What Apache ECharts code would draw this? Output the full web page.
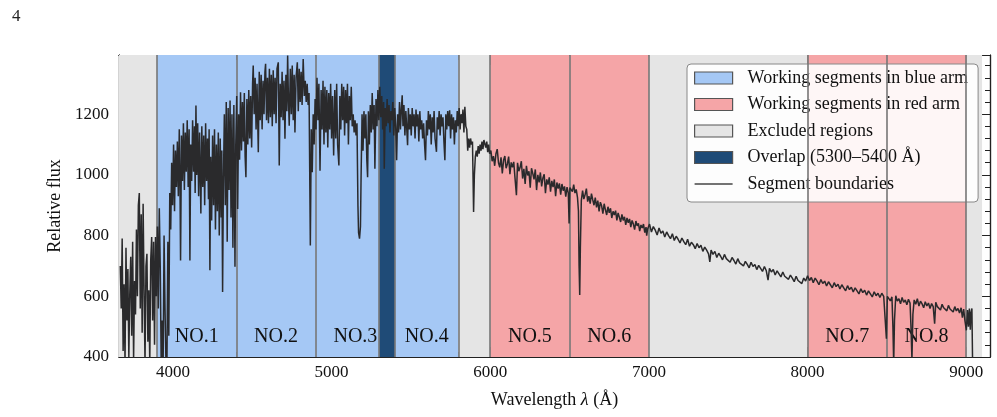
<!DOCTYPE html>
<html>
<head>
<meta charset="utf-8">
<script src="https://cdn.jsdelivr.net/npm/echarts@6/dist/echarts.min.js"></script>
<style>
  html, body { margin: 0; padding: 0; background: #fff; }
  #chart { width: 997px; height: 417px; }
</style>
</head>
<body>
<div id="chart"></div>
<script>
// spectrum, [wavelength in Å, relative flux], grouped by region
const specLeft = [[3668,700],[3674,560],[3680,790],[3686,420],[3692,640],[3698,380],[3704,760],[3710,520],[3716,690],[3722,400],[3728,610],[3734,730],[3740,470],[3746,780],[3752,390],[3758,650],[3764,540],[3770,820],[3776,600],[3782,900],[3788,940],[3794,560],[3800,870],[3806,480],[3812,905],[3818,620],[3824,380],[3830,700],[3836,740],[3842,450],[3848,620],[3854,380],[3860,720],[3866,795],[3872,520],[3878,780],[3884,440],[3890,795],[3896,600]];
const specNo1 = [[3902,830],[3908,560],[3914,890],[3920,700],[3926,380],[3932,520],[3938,360],[3944,800],[3950,560],[3956,380],[3962,360],[3968,780],[3974,470],[3980,940],[3986,820],[3992,1040],[3998,900],[4004,1100],[4010,880],[4016,1080],[4022,960],[4028,1110],[4034,930],[4040,1150],[4044,1000],[4048,718],[4054,1130],[4060,980],[4066,1170],[4072,950],[4078,1140],[4084,1010],[4090,1180],[4096,960],[4102,1150],[4107,718],[4112,1100],[4118,980],[4124,1180],[4130,1010],[4136,1160],[4140,940],[4145,1229],[4150,1000],[4156,1170],[4162,930],[4168,1140],[4176,873],[4182,1160],[4188,960],[4194,1130],[4200,900],[4206,1170],[4212,980],[4218,1120],[4224,920],[4228,1150],[4233,686],[4238,1060],[4244,850],[4250,1130],[4256,900],[4262,1150],[4268,820],[4274,1100],[4280,880],[4286,1140],[4292,800],[4298,1120],[4304,860],[4308,1080],[4313,614],[4318,980],[4324,1200],[4330,900],[4336,1240],[4342,780],[4348,1220],[4354,950],[4360,1245],[4366,860],[4372,1200],[4378,760],[4384,1230],[4391,697],[4396,1100]];
const specNo2 = [[4402,1260],[4408,888],[4414,1200],[4420,1050],[4426,1272],[4432,1080],[4438,1240],[4444,1110],[4450,1270],[4455,1060],[4460,992],[4466,1250],[4472,1100],[4478,1280],[4484,1120],[4490,1260],[4496,1090],[4502,1300],[4506,1360],[4512,1200],[4518,1320],[4524,1150],[4530,1300],[4538,1075],[4544,1340],[4550,1180],[4556,1330],[4562,1150],[4568,1310],[4574,1200],[4580,1340],[4584,1366],[4590,1180],[4596,1320],[4602,1170],[4608,1350],[4614,1190],[4620,1330],[4626,1160],[4632,1345],[4638,1200],[4644,1320],[4650,1170],[4656,1350],[4664,1371],[4670,1031],[4676,1300],[4682,1190],[4688,1340],[4694,1180],[4700,1310],[4706,1119],[4712,1330],[4718,1210],[4723,1393],[4728,1250],[4733,1162],[4740,1350],[4746,1200],[4752,1360],[4758,1180],[4764,1330],[4769,1140],[4776,1320],[4784,1371],[4790,1210],[4796,1350],[4802,1240],[4808,1340],[4814,1230],[4821,1382],[4828,1260],[4834,1310],[4840,1240],[4846,1300],[4852,1230],[4858,1270],[4866,767],[4872,1150],[4878,1009],[4884,1200],[4890,1100],[4896,1250],[4902,1150]];
const specNo3 = [[4908,1320],[4914,1180],[4920,1300],[4927,1014],[4934,1280],[4940,1150],[4946,1310],[4952,1100],[4958,1290],[4964,1140],[4970,1280],[4976,1090],[4982,1270],[4988,1150],[4994,1300],[5000,1120],[5006,1260],[5013,1064],[5020,1280],[5026,1120],[5032,1300],[5038,1100],[5046,1031],[5052,1260],[5058,1150],[5064,1300],[5070,1180],[5076,1290],[5082,1130],[5088,1280],[5094,1170],[5100,1300],[5106,1100],[5112,1260],[5118,1180],[5124,1290],[5130,1160],[5136,1200],[5142,1140],[5148,1180],[5154,1130],[5160,1170],[5166,900],[5170,810],[5176,790],[5182,830],[5186,1000],[5192,1200],[5198,1080],[5204,1210],[5210,1120],[5216,1200],[5222,1050],[5227,992],[5232,1210],[5238,1100],[5244,1230],[5250,1140],[5256,1270],[5262,1150],[5268,1230],[5273,1020],[5280,1250],[5286,1160],[5292,1280],[5298,1180],[5304,1290],[5310,1190],[5316,1260],[5322,1150],[5328,1240],[5332,1020],[5338,1220],[5344,1160],[5350,1250],[5356,1170],[5362,1230],[5368,1140],[5374,1210],[5380,1180],[5386,1240],[5392,1130],[5398,1220]];
const specNo4 = [[5404,1160],[5410,1048],[5416,1200],[5422,1140],[5428,1240],[5434,1150],[5440,1220],[5445,1262],[5450,1160],[5456,1230],[5462,1130],[5468,1210],[5474,1150],[5479,1098],[5484,1220],[5490,1150],[5496,1200],[5502,1130],[5508,1220],[5514,1160],[5520,1200],[5526,1120],[5532,1215],[5538,1160],[5544,1200],[5550,1110],[5556,1210],[5562,1150],[5568,1180],[5574,1120],[5580,1170],[5586,1100],[5592,1048],[5598,1180],[5604,1130],[5610,1210],[5616,1150],[5622,1200],[5628,1100],[5634,1190],[5640,1140],[5646,1210],[5652,1120],[5661,1076],[5666,1190],[5672,1150],[5678,1210],[5684,1130],[5690,1200],[5696,1160],[5702,1190],[5708,1110],[5714,1048],[5720,1200],[5726,1150],[5732,1210],[5738,1160],[5744,1213],[5750,1120],[5756,1200],[5762,1150],[5768,1190],[5774,1100],[5780,1180],[5786,1140],[5792,1210],[5798,1160]];
const specGap1 = [[5804,1220],[5810,1150],[5816,1200],[5822,1170],[5828,1215],[5834,1140],[5840,1224],[5846,1160],[5852,1150],[5858,1080],[5864,1120],[5870,1090],[5876,1120],[5882,1100],[5888,1110],[5895,878],[5900,1000],[5906,1060],[5912,1080],[5918,1060],[5924,1095],[5930,1070],[5936,1100],[5942,1080],[5948,1110],[5954,1085],[5960,1115],[5966,1120],[5972,1090],[5978,1110],[5984,1075],[5990,1100],[5996,1070]];
const specNo5 = [[6004,1080],[6012,1045],[6020,1062],[6028,1030],[6036,1070],[6044,1085],[6052,1040],[6060,1025],[6068,1058],[6076,1005],[6084,1048],[6092,1062],[6100,1022],[6108,1036],[6116,1060],[6124,1002],[6132,1041],[6140,1025],[6148,1043],[6156,990],[6165,933],[6172,1040],[6180,1012],[6188,1024],[6196,1045],[6204,988],[6212,1020],[6220,970],[6228,1030],[6236,998],[6244,1012],[6252,958],[6260,1022],[6268,1005],[6276,985],[6284,1018],[6292,950],[6300,1000],[6308,975],[6316,1008],[6324,962],[6332,990],[6340,1002],[6348,940],[6356,985],[6364,968],[6372,992],[6380,945],[6388,980],[6396,960],[6404,985],[6412,930],[6420,975],[6428,955],[6436,972],[6444,935],[6452,970],[6460,948],[6468,962],[6476,928],[6484,960],[6492,940],[6497,840],[6502,958]];
const specNo6 = [[6510,962],[6518,945],[6526,968],[6534,940],[6542,952],[6550,925],[6556,880],[6560,700],[6564,604],[6568,760],[6574,915],[6582,948],[6590,920],[6598,935],[6606,955],[6614,912],[6622,930],[6630,905],[6638,938],[6646,918],[6654,900],[6662,925],[6670,893],[6678,915],[6686,880],[6694,910],[6702,898],[6710,872],[6718,905],[6726,885],[6734,868],[6742,895],[6750,875],[6758,890],[6766,858],[6774,880],[6782,868],[6790,882],[6798,850],[6806,875],[6814,860],[6822,845],[6830,870],[6838,850],[6846,862],[6854,835],[6862,858],[6870,842],[6878,855],[6886,828],[6894,850],[6902,838],[6910,820],[6918,848],[6926,832],[6934,840],[6942,815],[6950,835],[6958,825],[6966,838],[6974,810],[6982,828],[6986,800],[6992,822]];
const specGap2 = [[7004,838],[7016,812],[7028,830],[7040,818],[7052,802],[7064,825],[7076,808],[7088,815],[7100,795],[7112,812],[7124,800],[7136,790],[7148,806],[7160,784],[7172,798],[7184,788],[7196,776],[7208,792],[7220,780],[7232,770],[7244,788],[7256,765],[7268,778],[7280,770],[7292,757],[7304,774],[7316,760],[7328,768],[7340,748],[7352,762],[7364,752],[7376,740],[7384,713],[7392,752],[7404,738],[7416,748],[7428,728],[7440,742],[7452,732],[7464,720],[7476,738],[7488,724],[7500,730],[7512,712],[7524,728],[7536,718],[7548,706],[7560,724],[7572,710],[7584,716],[7596,700],[7608,715],[7620,705],[7632,694],[7644,712],[7656,698],[7668,705],[7680,688],[7692,702],[7704,692],[7716,682],[7728,698],[7740,684],[7751,653],[7760,692],[7772,680],[7784,688],[7796,670],[7808,684],[7820,674],[7832,664],[7844,680],[7856,666],[7868,672],[7880,656],[7892,670],[7904,660],[7916,648],[7928,666],[7940,652],[7952,658],[7964,642],[7976,660],[7988,650]];
const specNo7 = [[8000,668],[8012,652],[8024,662],[8036,645],[8048,660],[8060,650],[8072,638],[8084,655],[8096,642],[8108,650],[8120,634],[8132,648],[8144,638],[8156,628],[8168,645],[8180,632],[8192,640],[8204,624],[8216,638],[8228,628],[8240,618],[8252,635],[8264,622],[8276,630],[8288,614],[8300,628],[8312,618],[8324,608],[8336,625],[8348,612],[8360,620],[8372,604],[8384,618],[8396,608],[8408,598],[8420,615],[8432,602],[8444,610],[8456,596],[8468,610],[8480,600],[8490,594],[8497,460],[8503,600]];
const specNo8 = [[8512,606],[8522,585],[8532,598],[8538,500],[8543,380],[8548,520],[8556,602],[8566,584],[8576,592],[8586,575],[8596,596],[8606,580],[8616,588],[8626,572],[8636,590],[8646,578],[8652,500],[8658,390],[8664,540],[8672,588],[8682,574],[8692,592],[8702,568],[8712,584],[8722,575],[8732,562],[8742,582],[8752,568],[8762,578],[8772,560],[8782,576],[8792,566],[8801,510],[8808,580],[8818,566],[8828,572],[8838,555],[8848,574],[8858,562],[8868,568],[8878,552],[8888,570],[8898,558],[8908,562],[8918,548],[8928,566],[8938,552],[8948,560],[8958,545],[8968,562],[8976,530],[8984,558],[8992,520]];
const specTail = [[9001,488],[9008,555],[9014,500],[9020,560],[9026,490],[9030,545],[9036,560],[9040,390]];

// regions
const blueSegments = [[3900, 4400, 'NO.1'], [4400, 4900, 'NO.2'], [4900, 5400, 'NO.3'], [5400, 5800, 'NO.4']];
const redSegments = [[6000, 6500, 'NO.5'], [6500, 7000, 'NO.6'], [8000, 8500, 'NO.7'], [8500, 9000, 'NO.8']];
const excludedRegions = [[3660, 3900], [5800, 6000], [7000, 8000], [9000, 9100]];
const overlapRegion = [[5300, 5400]];
const boundaries = [3900, 4400, 4900, 5300, 5400, 5800, 6000, 6500, 7000, 8000, 8500, 9000];

// ticks
const xMajor = [4000, 5000, 6000, 7000, 8000, 9000];
const xMinor = [3800, 4200, 4400, 4600, 4800, 5200, 5400, 5600, 5800, 6200, 6400, 6600, 6800, 7200, 7400, 7600, 7800, 8200, 8400, 8600, 8800];
const yMajor = [400, 600, 800, 1000, 1200];
const yMinor = [440, 480, 520, 560, 640, 680, 720, 760, 840, 880, 920, 960, 1040, 1080, 1120, 1160, 1240, 1280, 1320, 1360];

const X_MIN = 3660, X_MAX = 9150, Y_MIN = 400, Y_MAX = 1395;
const FONT = "'Liberation Serif', 'DejaVu Serif', serif";
const BLUE = '#a5c8f5', RED = '#f5a5a7', GRAY = '#e5e5e5', DARK = '#1f4b77';
const EDGE = '#767676';

const spectrum = [].concat(specLeft, specNo1, specNo2, specNo3, specNo4, specGap1,
  specNo5, specNo6, specGap2, specNo7, specNo8, specTail);

function xAxisDef(pos, ticks, len, labels) {
  return {
    type: 'value', position: pos, min: X_MIN, max: X_MAX,
    axisLine: { show: true, lineStyle: { color: '#222', width: 1.2 } },
    axisTick: { show: true, inside: true, length: len, customValues: ticks, lineStyle: { color: '#222', width: 1 } },
    axisLabel: labels ? { show: true, customValues: ticks, margin: 7, color: '#111', fontSize: 17, fontFamily: FONT, formatter: v => String(v) } : { show: false },
    splitLine: { show: false }
  };
}
function yAxisDef(pos, ticks, len, labels) {
  return {
    type: 'value', position: pos, min: Y_MIN, max: Y_MAX,
    axisLine: { show: true, lineStyle: { color: '#222', width: 1.2 } },
    axisTick: { show: true, inside: true, length: len, customValues: ticks, lineStyle: { color: '#222', width: 1 } },
    axisLabel: labels ? { show: true, customValues: ticks, margin: 10, color: '#111', fontSize: 17, fontFamily: FONT, formatter: v => String(v) } : { show: false },
    splitLine: { show: false }
  };
}

const segLabel = { show: true, position: 'insideBottom', distance: 10, color: '#111', fontSize: 20, fontFamily: FONT };
function areas(list) {
  return list.map(s => [{ xAxis: s[0], name: s[2] || '' }, { xAxis: s[1] }]);
}

const chart = echarts.init(document.getElementById('chart'), null, { renderer: 'canvas' });
const bottomX = xAxisDef('bottom', xMajor, 10, true);
bottomX.name = '{n|Wavelength }{i|λ}{n| (Å)}';
bottomX.nameLocation = 'middle';
bottomX.nameGap = 34;
bottomX.nameTextStyle = { rich: { n: { fontSize: 18, fontFamily: FONT, color: '#111' }, i: { fontSize: 18, fontFamily: FONT, fontStyle: 'italic', color: '#111' } } };
const leftY = yAxisDef('left', yMajor, 10, true);
leftY.name = 'Relative flux';
leftY.nameLocation = 'middle';
leftY.nameGap = 53;
leftY.nameTextStyle = { fontSize: 18, fontFamily: FONT, color: '#111' };

chart.setOption({
  animation: false,
  title: { text: '4', left: 7, top: 3, textStyle: { fontSize: 17, fontWeight: 'normal', fontFamily: FONT, color: '#222' } },
  grid: { left: 119, right: 7, top: 55, bottom: 60 },
  xAxis: [bottomX, xAxisDef('bottom', xMinor, 5, false), xAxisDef('top', xMajor, 10, false), xAxisDef('top', xMinor, 5, false)],
  yAxis: [leftY, yAxisDef('left', yMinor, 5, false), yAxisDef('right', yMajor, 10, false), yAxisDef('right', yMinor, 5, false)],
  legend: {
    orient: 'vertical', left: 687, top: 64,
    padding: [5, 10, 9, 7],
    itemWidth: 38, itemHeight: 12, itemGap: 8.5,
    backgroundColor: 'rgba(255,255,255,0.9)', borderColor: '#888', borderWidth: 1, borderRadius: 4,
    selectedMode: false,
    textStyle: { fontFamily: FONT, fontSize: 18, lineHeight: 18, color: '#111', padding: [0, 0, 0, 10] },
    data: [
      { name: 'Working segments in blue arm', icon: 'rect', itemStyle: { color: BLUE, borderColor: '#555', borderWidth: 1.2 } },
      { name: 'Working segments in red arm', icon: 'rect', itemStyle: { color: RED, borderColor: '#555', borderWidth: 1.2 } },
      { name: 'Excluded regions', icon: 'rect', itemStyle: { color: GRAY, borderColor: '#555', borderWidth: 1.2 } },
      { name: 'Overlap (5300–5400 Å)', icon: 'rect', itemStyle: { color: DARK, borderColor: '#555', borderWidth: 1.2 } },
      { name: 'Segment boundaries', icon: 'path://M0,0L38,0L38,1.3L0,1.3Z', itemStyle: { color: '#444', borderWidth: 0 } }
    ]
  },
  series: [
    {
      name: 'Excluded regions', type: 'line', data: [], color: GRAY,
      markArea: { silent: true, itemStyle: { color: GRAY, opacity: 1 }, data: areas(excludedRegions) }
    },
    {
      name: 'Working segments in blue arm', type: 'line', data: [], color: BLUE,
      markArea: { silent: true, itemStyle: { color: BLUE, opacity: 1 }, label: segLabel, data: areas(blueSegments) }
    },
    {
      name: 'Working segments in red arm', type: 'line', data: [], color: RED,
      markArea: { silent: true, itemStyle: { color: RED, opacity: 1 }, label: segLabel, data: areas(redSegments) }
    },
    {
      name: 'Overlap (5300–5400 Å)', type: 'line', data: [], color: DARK,
      markArea: { silent: true, itemStyle: { color: DARK, opacity: 1 }, data: areas(overlapRegion) }
    },
    {
      name: 'Segment boundaries', type: 'line', data: [], color: '#444', symbol: 'none',
      markLine: {
        silent: true, symbol: ['none', 'none'], label: { show: false },
        lineStyle: { color: EDGE, width: 1.6, type: 'solid' },
        data: boundaries.map(b => ({ xAxis: b }))
      }
    },
    {
      name: 'Spectrum', type: 'line', data: spectrum, showSymbol: false, symbol: 'none',
      clip: true, silent: true, z: 10,
      lineStyle: { color: '#2a2a2c', width: 1.5 }
    }
  ]
});
</script>
</body>
</html>
